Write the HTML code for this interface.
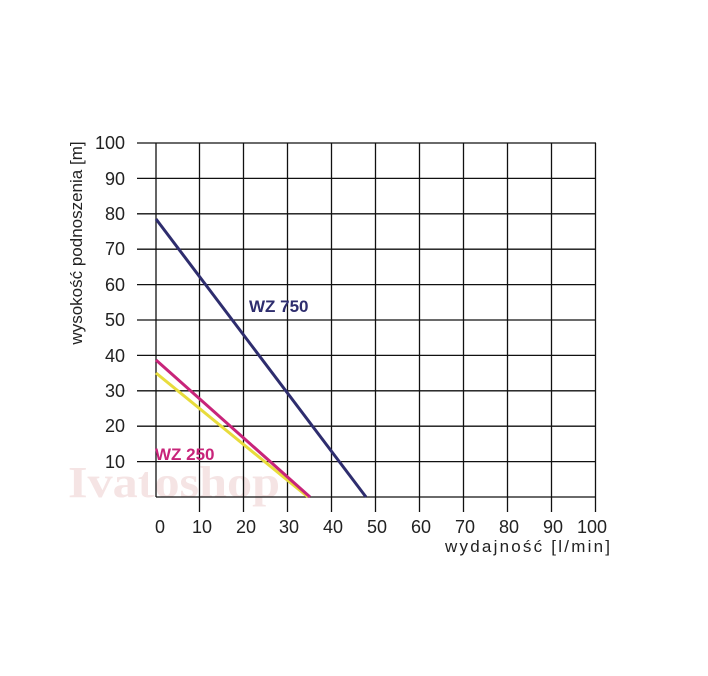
<!DOCTYPE html>
<html><head><style>body{margin:0;background:#fff}svg{display:block}</style></head><body>
<svg width="708" height="676" xmlns="http://www.w3.org/2000/svg" font-family="Liberation Sans, sans-serif">
<text x="68" y="497" font-family="Liberation Serif, serif" font-size="44" font-weight="bold" fill="#f5e4e4" textLength="212" lengthAdjust="spacingAndGlyphs">Ivatoshop</text>
<g stroke="#111" stroke-width="1.3">
<line x1="137" y1="143" x2="596" y2="143"/><line x1="137" y1="178.4" x2="596" y2="178.4"/><line x1="137" y1="213.8" x2="596" y2="213.8"/><line x1="137" y1="249.2" x2="596" y2="249.2"/><line x1="137" y1="284.6" x2="596" y2="284.6"/><line x1="137" y1="320" x2="596" y2="320"/><line x1="137" y1="355.4" x2="596" y2="355.4"/><line x1="137" y1="390.8" x2="596" y2="390.8"/><line x1="137" y1="426.2" x2="596" y2="426.2"/><line x1="137" y1="461.6" x2="596" y2="461.6"/><line x1="156" y1="497" x2="596" y2="497"/>
<line x1="156" y1="143" x2="156" y2="497"/>
<line x1="199.5" y1="143" x2="199.5" y2="512"/><line x1="243.5" y1="143" x2="243.5" y2="512"/><line x1="287.5" y1="143" x2="287.5" y2="512"/><line x1="331.5" y1="143" x2="331.5" y2="512"/><line x1="375.5" y1="143" x2="375.5" y2="512"/><line x1="419.5" y1="143" x2="419.5" y2="512"/><line x1="463.5" y1="143" x2="463.5" y2="512"/><line x1="507.5" y1="143" x2="507.5" y2="512"/><line x1="551.5" y1="143" x2="551.5" y2="512"/><line x1="595.5" y1="143" x2="595.5" y2="512"/>
</g>
<rect x="148" y="465" width="7" height="30" fill="#fff"/>
<line x1="156" y1="373" x2="308" y2="497" stroke="#e8dc3c" stroke-width="3"/>
<line x1="156" y1="360" x2="310" y2="497" stroke="#c8247a" stroke-width="3"/>
<line x1="156" y1="219" x2="366" y2="497" stroke="#2e2d6e" stroke-width="3"/>
<text x="249" y="312" font-size="17" font-weight="bold" fill="#2e2d6e">WZ 750</text>
<text x="155" y="460" font-size="17" font-weight="bold" fill="#c8247a">WZ 250</text>
<g font-size="18" fill="#222" text-anchor="end">
<text x="125" y="149">100</text><text x="125" y="185">90</text><text x="125" y="220">80</text><text x="125" y="255">70</text><text x="125" y="291">60</text><text x="125" y="326">50</text><text x="125" y="362">40</text><text x="125" y="397">30</text><text x="125" y="432">20</text><text x="125" y="468">10</text>
</g>
<g font-size="18" fill="#222" text-anchor="middle">
<text x="160" y="533">0</text><text x="202" y="533">10</text><text x="246" y="533">20</text><text x="289" y="533">30</text><text x="333" y="533">40</text><text x="377" y="533">50</text><text x="421" y="533">60</text><text x="465" y="533">70</text><text x="509" y="533">80</text><text x="553" y="533">90</text><text x="592" y="533">100</text>
</g>
<text x="445" y="552" font-size="17" fill="#222" textLength="165" lengthAdjust="spacing">wydajność [l/min]</text>
<text transform="translate(82,243) rotate(-90)" font-size="17" fill="#222" text-anchor="middle">wysokość podnoszenia [m]</text>
</svg>
</body></html>
